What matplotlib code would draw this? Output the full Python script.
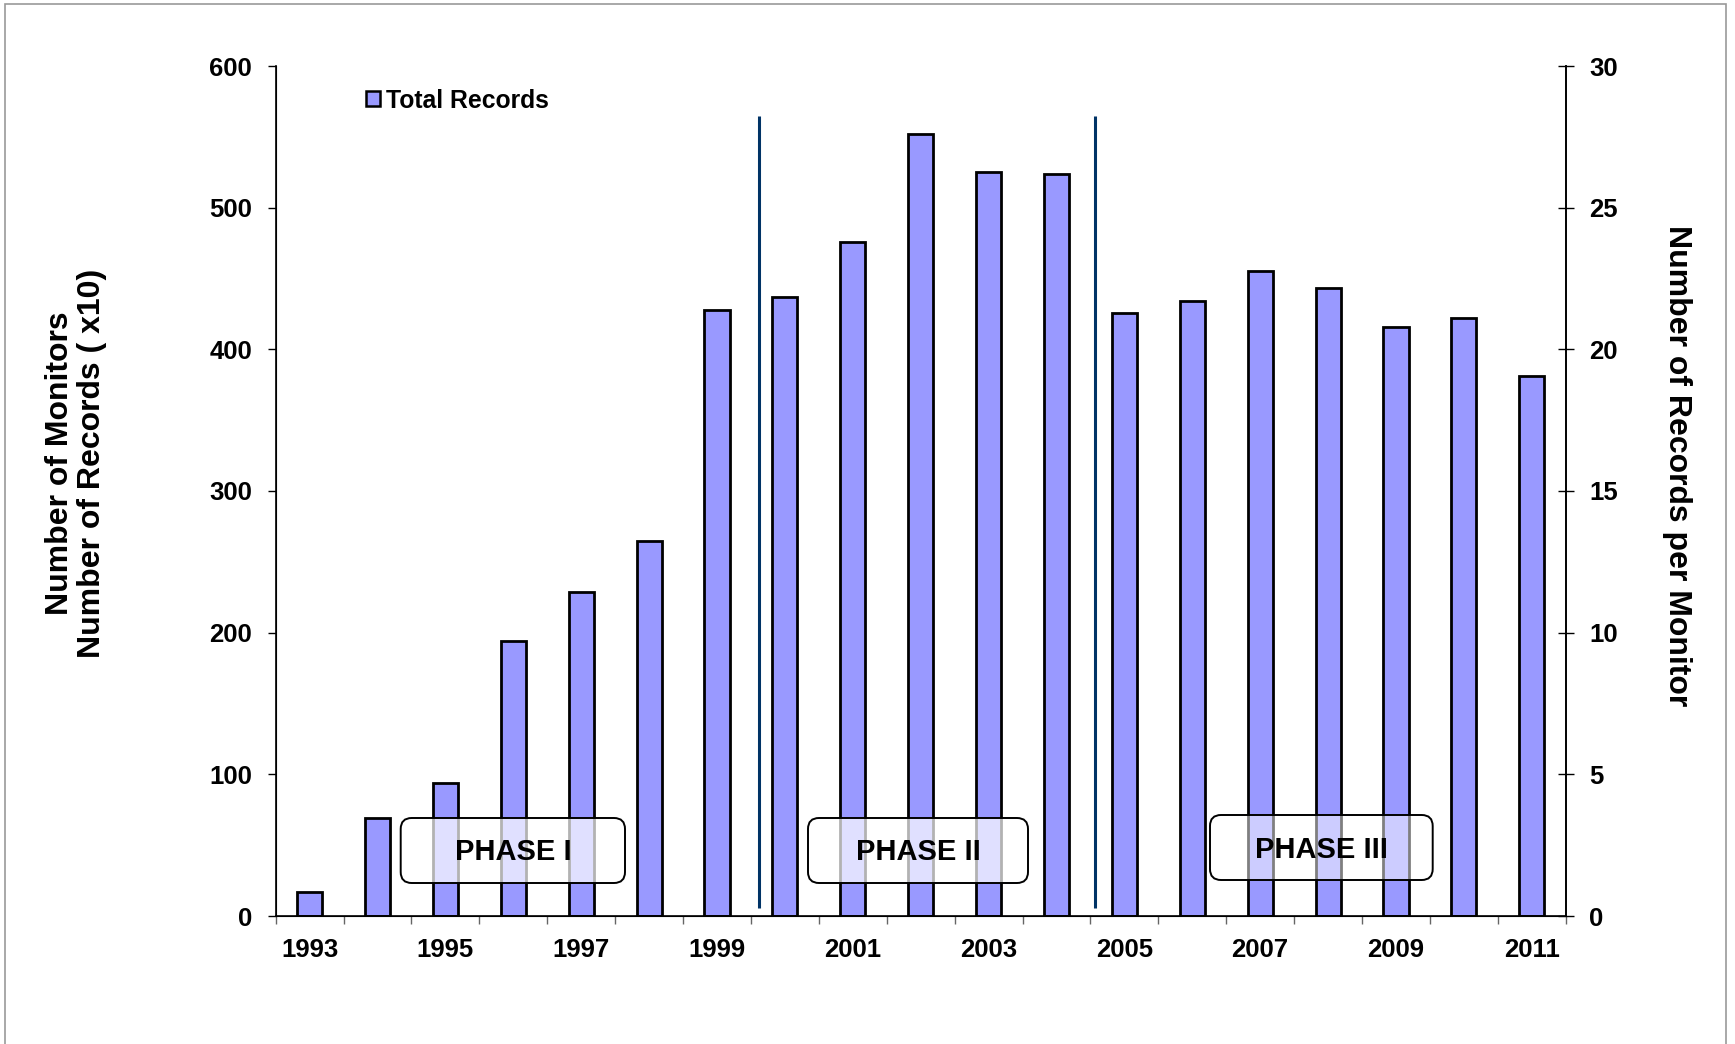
import matplotlib
matplotlib.use('Agg')
import matplotlib.pyplot as plt
import numpy as np
from matplotlib.patches import FancyBboxPatch, Patch, Rectangle
from matplotlib.transforms import IdentityTransform

plt.rcParams['font.family'] = ['Liberation Sans', 'DejaVu Sans']
plt.rcParams['font.weight'] = 'bold'

# ---- data ----
years = list(range(1993, 2012))
total_records = [17, 69, 94, 194, 229, 265, 428, 437, 476, 552, 525, 524,
                 426, 434, 455, 443, 416, 422, 381]
left_ticks = [0, 100, 200, 300, 400, 500, 600]
right_ticks = [0, 5, 10, 15, 20, 25, 30]
year_labels = [str(y) if (y - 1993) % 2 == 0 else '' for y in years]
phase_labels = ['PHASE I', 'PHASE II', 'PHASE III']
phase_dividers = [6.62, 11.56]   # category positions of phase boundaries

W, H, DPI = 1735, 1044, 100
fig = plt.figure(figsize=(W / DPI, H / DPI), dpi=DPI)
ax = fig.add_axes([275.7 / W, (H - 916) / H, (1565.7 - 275.7) / W, 850 / H])

x = np.arange(len(years))
ax.bar(x, total_records, width=0.37, color='#9999FF', edgecolor='black',
       linewidth=2.0, zorder=2)

ax.set_xlim(-0.5, len(years) - 0.5)
ax.set_ylim(0, 600)
ax.set_yticks(left_ticks)
ax.set_yticklabels([str(t) for t in left_ticks], fontsize=18.5, fontweight='bold')
ax.tick_params(axis='y', direction='out', length=6, width=1, pad=11)

ax.set_xticks(np.arange(-0.5, len(years), 1))
ax.set_xticklabels([''] * len(np.arange(-0.5, len(years), 1)))
ax.tick_params(axis='x', which='major', direction='out', length=6, width=1,
               color='#666666')
ax.set_xticks(x, minor=True)
ax.set_xticklabels(year_labels, minor=True, fontsize=18.5, fontweight='bold')
ax.tick_params(axis='x', which='minor', length=0, pad=16)

ax.spines['top'].set_visible(False)
for s in ['left', 'bottom', 'right']:
    ax.spines[s].set_linewidth(1.2)

# phase divider lines
ax.vlines(phase_dividers, 6, 565, color='#003366', linewidth=2.2, zorder=3)

# right axis
ax2 = ax.twinx()
ax2.set_ylim(0, 30)
ax2.set_yticks(right_ticks)
ax2.set_yticklabels([str(t) for t in right_ticks], fontsize=18.5, fontweight='bold')
ax2.tick_params(axis='y', direction='inout', length=12, width=1, pad=11)
ax2.spines['top'].set_visible(False)
ax2.spines['right'].set_linewidth(1.2)

# legend
leg = ax.legend(handles=[Patch(facecolor='#9999FF', edgecolor='black', linewidth=1.8,
                               label='Total Records')],
                loc='center left', bbox_to_anchor=(366 / W, (H - 100.5) / H),
                bbox_transform=fig.transFigure, frameon=False,
                handlelength=0.55, handleheight=0.55, handletextpad=0.25,
                borderpad=0, borderaxespad=0,
                prop={'size': 17.8, 'weight': 'bold'})

# phase boxes (pixel layout)
boxes = [(400.7, 818, 625, 883, 0.70),
         (808, 818, 1028, 883, 0.70),
         (1210, 815, 1432.7, 880, 0.50)]
for (x0, y0, x1, y1, a), lab in zip(boxes, phase_labels):
    p = FancyBboxPatch((x0, H - y1), x1 - x0, y1 - y0,
                       boxstyle='round,pad=0,rounding_size=11',
                       transform=IdentityTransform(), facecolor=(1, 1, 1, a),
                       edgecolor='black', linewidth=1.4, zorder=5)
    fig.patches.append(p)
    fig.text((x0 + x1) / 2 / W, (H - (y0 + y1) / 2 - 2) / H, lab, fontsize=21,
             fontweight='bold', ha='center', va='center', zorder=6)

# axis labels
fig.text(76 / W, (H - 463) / H, 'Number of Monitors\nNumber of Records ( x10)',
         rotation=90, fontsize=23, fontweight='bold', ha='center', va='center',
         multialignment='center', linespacing=1.1)
fig.text(1677 / W, (H - 466) / H, 'Number of Records per Monitor',
         rotation=270, fontsize=23, fontweight='bold', ha='center', va='center')

# figure border
fig.patches.append(Rectangle((5, -10), 1721, H - 4 + 10, transform=IdentityTransform(),
                             fill=False, edgecolor='#999999', linewidth=1.2))

fig.savefig('out.png', dpi=DPI)
